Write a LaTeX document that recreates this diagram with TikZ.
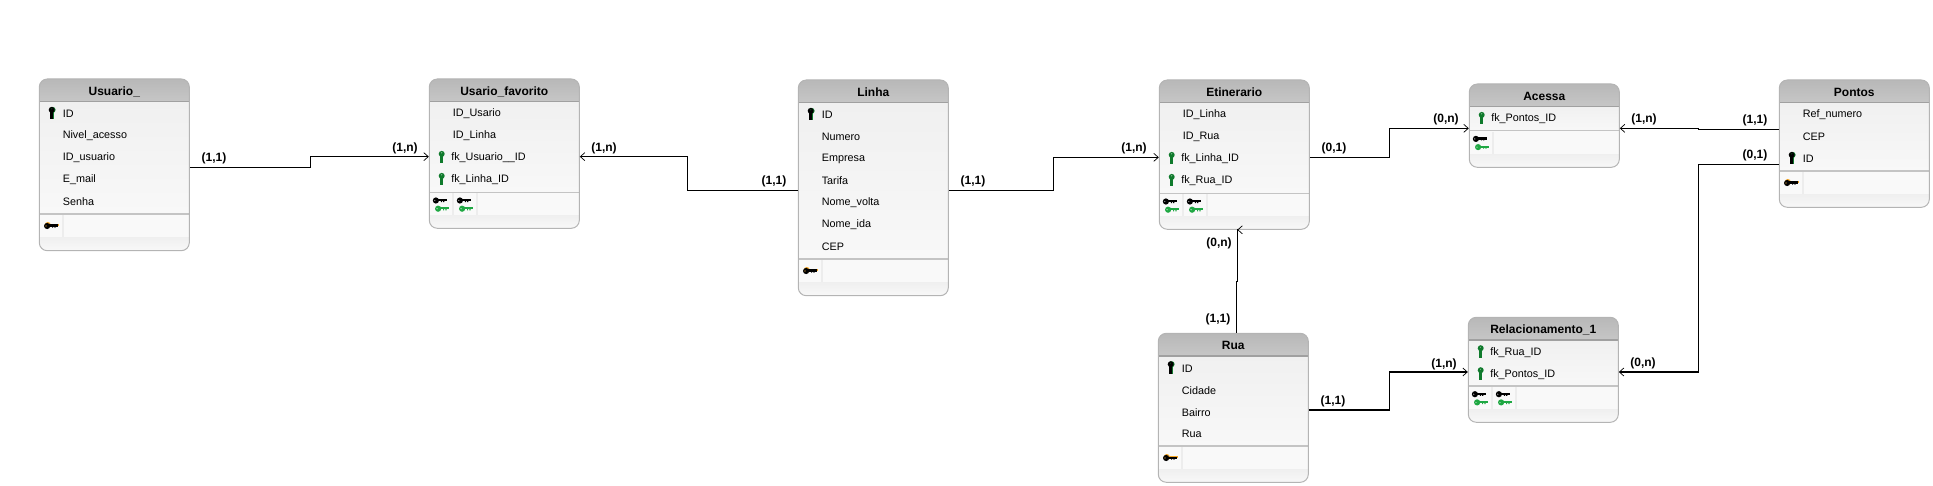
\documentclass[tikz,border=0pt]{standalone}
\usepackage{fontspec}
\setmainfont{Liberation Sans}
\usepackage{xcolor}
\usetikzlibrary{arrows.meta,positioning}
\definecolor{edgeblack}{HTML}{000000}
\definecolor{boxstroke}{HTML}{B4B4B4}
\definecolor{headtop}{HTML}{B8B8B8}
\definecolor{headbottom}{HTML}{C6C6C6}
\definecolor{headrule}{HTML}{A0A0A0}
\definecolor{bodytop}{HTML}{F0F0F0}
\definecolor{bodybottom}{HTML}{F8F8F8}
\definecolor{keyrule}{HTML}{C4C4C4}
\definecolor{keycell}{HTML}{F9F9F9}
\definecolor{keygap}{HTML}{EDEDED}
\definecolor{fkgreen}{HTML}{0F7A2C}
\definecolor{fklight}{HTML}{1FA843}
\definecolor{pkorange}{HTML}{F5A623}

\tikzset{
  keybar/.pic={
    \fill[pic actions,even odd rule] (-3.9,0) circle (3.1) (-5,0) circle (0.8);
    \fill[pic actions] (-2,-1.5) rectangle (7,0.7);
    \fill[pic actions] (1,0) rectangle (2.2,1.6) (3.4,0) rectangle (4.6,1.6);
  },
  keystem/.pic={
    \fill[pic actions,even odd rule] (0,-3.4) circle (3) (0,-4.4) circle (0.7);
    \fill[pic actions] (-1.5,-2) rectangle (1.5,6);
  },
  keypk/.pic={
    \pic[fill=fkgreen] at (0.9,0) {keystem};
    \pic[fill=black] at (0,0) {keystem};
  },
  keyfk/.pic={\pic[fill=fkgreen] at (0,0) {keystem};},
  keynone/.pic={},
  cellpk/.pic={
    \pic[fill=pkorange] at (0.7,-0.9) {keybar};
    \pic[fill=black] at (0,0) {keybar};
  },
  cellfk/.pic={
    \pic[fill=black] at (-1.2,-3.8) {keybar};
    \pic[fill=fklight] at (1,4.4) {keybar};
  }
}

% name, left, top, bottom, separator, title, rows, key cells
\newcommand{\erbox}[8]{
  \begin{scope}
    \clip[rounded corners=8pt] (#2,#3) rectangle (#2+150,#4);
    \shade[top color=bodytop,bottom color=bodybottom] (#2,#3+22) rectangle (#2+150,#5);
    \shade[top color=headtop,bottom color=headbottom] (#2,#3) rectangle (#2+150,#3+22.5);
    \draw[headrule,line width=1.3pt] (#2,#3+22.7) -- (#2+150,#3+22.7);
    \shade[top color=keygap,bottom color=bodybottom] (#2,#5+20) rectangle (#2+150,#4);
    \fill[keycell] (#2,#5) rectangle (#2+150,#5+23);
    \draw[keyrule,line width=1.5pt] (#2,#5) -- (#2+150,#5);
    \foreach \kind [count=\cellno from 0] in {#8}{
      \fill[keygap] (#2+23+24*\cellno,#5+1) rectangle (#2+24.7+24*\cellno,#5+23);
      \pic at (#2+11.7+24*\cellno,#5+12) {cell\kind};
    }
  \end{scope}
  \node[tablebody,minimum height={(#4-#3)*1pt}] (#1) at (#2+75,{(#3+#4)/2}) {};
  \node[tabletitle] (#1-title) at (#2+75,#3+12.5) {#6};
  \foreach \rowtext/\kind [count=\rowno from 0] in {#7}{
    \pic at (#2+12.4,#3+34.3+22*\rowno) {key\kind};
    \node[tablerow,row\kind] (#1-\rowno) at (#2+23.3,#3+35+22*\rowno) {\rowtext};
  }
}

\begin{document}
\begin{tikzpicture}[
  x=1pt,
  y=-1pt,
  tablebody/.style={
    rectangle,
    rounded corners=8pt,
    draw=boxstroke,
    line width=1pt,
    minimum width=150pt,
    inner sep=0pt
  },
  tabletitle/.style={
    inner sep=0pt,
    font=\bfseries\fontsize{12}{14}\selectfont
  },
  tablerow/.style={
    anchor=west,
    inner sep=0pt,
    font=\fontsize{10.8}{13}\selectfont
  },
  rowpk/.style={},
  rownone/.style={},
  rowfk/.style={xshift=-1.5pt},
  relation/.style={
    -{Straight Barb[length=4.5pt,width=8pt,line width=.7pt]},
    draw=edgeblack,
    line width=1.1pt
  },
  cardinality/.style={
    inner sep=0pt,
    font=\bfseries\fontsize{12}{14}\selectfont
  }
]
\useasboundingbox (0,0) rectangle (1933,486);

% Tables, left to right
\erbox{usuario}{39.3}{79}{250.7}{214}{Usuario\_}
  {ID/pk,Nivel\_acesso/none,ID\_usuario/none,E\_mail/none,Senha/none}{pk}
\erbox{favorito}{429.3}{79}{228.3}{192.3}{Usario\_favorito}
  {ID\_Usario/none,ID\_Linha/none,fk\_Usuario\_\_ID/fk,fk\_Linha\_ID/fk}{fk,fk}
\erbox{linha}{798.3}{80}{295.7}{259}{Linha}
  {ID/pk,Numero/none,Empresa/none,Tarifa/none,Nome\_volta/none,Nome\_ida/none,CEP/none}{pk}
\erbox{etinerario}{1159.3}{80}{229.3}{193.3}{Etinerario}
  {ID\_Linha/none,ID\_Rua/none,fk\_Linha\_ID/fk,fk\_Rua\_ID/fk}{fk,fk}
\erbox{rua}{1158.3}{333.3}{482.3}{446}{Rua}
  {ID/pk,Cidade/none,Bairro/none,Rua/none}{pk}
\erbox{acessa}{1469.3}{84}{167.3}{130.7}{Acessa}
  {fk\_Pontos\_ID/fk}{fk}
\erbox{relacionamento}{1468.3}{317.3}{422.3}{386}{Relacionamento\_1}
  {fk\_Rua\_ID/fk,fk\_Pontos\_ID/fk}{fk,fk}
\erbox{pontos}{1779.3}{80}{207.3}{171}{Pontos}
  {Ref\_numero/none,CEP/none,ID/pk}{pk}

% Relations
\draw[relation] ([yshift=-2.5pt]usuario.east) -- ++(120.7,0) |- ([yshift=-3pt]favorito.west);
\draw[relation] ([yshift=-2.5pt]linha.west) -- ++(-110.3,0) |- ([yshift=-3pt]favorito.east);
\draw[relation] ([yshift=-2.5pt]linha.east) -- ++(104.7,0) |- ([yshift=-2.7pt]etinerario.west);
\draw[relation] ([yshift=-2.7pt]etinerario.east) -- ++(79.7,0) |- ([yshift=-2.7pt]acessa.west);
\draw[relation] ([yshift=14.3pt]pontos.west) -- ++(-80,0) |- ([yshift=-2.7pt]acessa.east);
\draw[relation] ([yshift=-20.7pt]pontos.west) -- ++(-80.6,0) |- ([yshift=-2.2pt]relacionamento.east);
\draw[relation] ([xshift=3.5pt]rua.north) -- ++(0,-51.6) -- ++(0.6,0) |- ([xshift=3pt]etinerario.south);
\draw[relation] ([yshift=-2.2pt]rua.east) -- ++(80.4,0) |- ([yshift=-2.2pt]relacionamento.west);

% Cardinalities
\node[cardinality] (c1) at (214,158.5) {(1,1)};
\node[cardinality] (c2) at (405,148) {(1,n)};
\node[cardinality] (c3) at (604,148) {(1,n)};
\node[cardinality] (c4) at (774,181) {(1,1)};
\node[cardinality] (c5) at (973,181.7) {(1,1)};
\node[cardinality] (c6) at (1134,148.7) {(1,n)};
\node[cardinality] (c7) at (1334,148.7) {(0,1)};
\node[cardinality] (c8) at (1446,119.7) {(0,n)};
\node[cardinality] (c9) at (1644,119.7) {(1,n)};
\node[cardinality] (c10) at (1755,120.7) {(1,1)};
\node[cardinality] (c11) at (1755,155.7) {(0,1)};
\node[cardinality] (c12) at (1643,363.2) {(0,n)};
\node[cardinality] (c13) at (1219,243) {(0,n)};
\node[cardinality] (c14) at (1218,319) {(1,1)};
\node[cardinality] (c15) at (1333,401.7) {(1,1)};
\node[cardinality] (c16) at (1444,364.4) {(1,n)};

\end{tikzpicture}
\end{document}
